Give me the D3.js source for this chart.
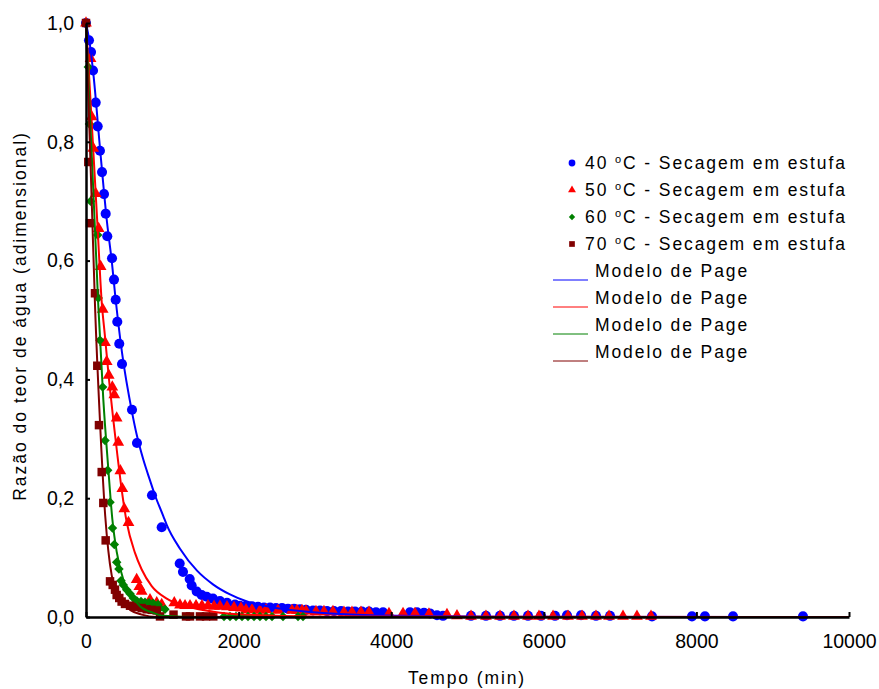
<!DOCTYPE html>
<html>
<head>
<meta charset="utf-8">
<script src="https://cdn.jsdelivr.net/npm/d3@7"></script>
<style>
  body { margin: 0; background: #fff; }
  svg text { font-family: "Liberation Sans", Arial, sans-serif; fill: #000; }
</style>
</head>
<body>
<div id="chart"></div>
<script>
// experimental points (tempo em min, razão do teor de água)
const t40 = [0, 39, 66, 92, 127, 153, 183, 210, 236, 258, 279, 341, 367, 389, 410, 436, 472, 603, 668, 865, 992,
  1228, 1271, 1359, 1385, 1451, 1516, 1582, 1664, 1756, 1848, 1953, 2018, 2097, 2176, 2254, 2333, 2412, 2490, 2569,
  2647, 2726, 2805, 2883, 2975, 3067, 3159, 3250, 3342, 3434, 3526, 3617, 3709, 3801, 3893, 4246, 4338, 4430, 4508,
  4600, 4679, 5046, 5242, 5426, 5609, 5793, 5963, 6147, 6304, 6488, 6684, 6868, 7418, 7942, 8112, 8480, 9397];
const mr40 = [1.0, 0.971, 0.951, 0.920, 0.866, 0.826, 0.785, 0.749, 0.712, 0.679, 0.641, 0.604, 0.568, 0.534, 0.497,
  0.460, 0.426, 0.349, 0.293, 0.205, 0.151, 0.090, 0.076, 0.064, 0.053, 0.043, 0.037, 0.034, 0.031, 0.027, 0.024,
  0.021, 0.019, 0.019, 0.018, 0.017, 0.016, 0.016, 0.015, 0.015, 0.014, 0.014, 0.013, 0.012, 0.011, 0.011, 0.010,
  0.010, 0.010, 0.009, 0.009, 0.009, 0.009, 0.008, 0.008, 0.008, 0.008, 0.007, 0.006, 0.003, 0.002, 0.002, 0.002,
  0.002, 0.002, 0.002, 0.002, 0.002, 0.003, 0.003, 0.002, 0.002, 0.001, 0.001, 0.001, 0.001, 0.001];

const t50 = [0, 60, 75, 95, 127, 166, 192, 219, 249, 271, 298, 345, 371, 402, 423, 450, 476, 502, 557, 664, 699, 730,
  839, 927, 992, 1157, 1232, 1298, 1363, 1442, 1520, 1599, 1678, 1756, 1848, 1940, 2031, 2097, 2176, 2280, 2359, 2516,
  2700, 2765, 2831, 2883, 3014, 3119, 3237, 3381, 3486, 3604, 3709, 3971, 4155, 4312, 4495, 4731, 4862, 5046, 5242,
  5426, 5609, 5793, 5937, 6121, 6317, 6501, 6684, 6855, 7038, 7221, 7405];
const mr50 = [1.0, 0.940, 0.842, 0.789, 0.713, 0.654, 0.590, 0.518, 0.462, 0.430, 0.407, 0.387, 0.374, 0.335, 0.294,
  0.246, 0.216, 0.182, 0.159, 0.063, 0.051, 0.043, 0.029, 0.024, 0.021, 0.024, 0.020, 0.019, 0.019, 0.019, 0.019,
  0.019, 0.018, 0.018, 0.017, 0.016, 0.015, 0.012, 0.012, 0.011, 0.012, 0.011, 0.011, 0.011, 0.011, 0.010, 0.009,
  0.009, 0.009, 0.008, 0.008, 0.008, 0.008, 0.006, 0.006, 0.006, 0.005, 0.004, 0.002, 0.001, 0.001, 0.001, 0.001,
  0.001, 0.001, 0.001, 0.001, 0.001, 0.001, 0.001, 0.001, 0.001, 0.001];

const t60 = [0, 30, 45, 60, 153, 161, 183, 219, 249, 284, 315, 347, 371, 402, 432, 459, 489, 533, 577, 620, 668, 721,
  773, 826, 878, 944, 970, 1035, 1809, 1887, 1966, 2045, 2123, 2202, 2280, 2359, 2438, 2582, 2779, 2844];
const mr60 = [1.0, 0.926, 0.830, 0.700, 0.643, 0.537, 0.466, 0.387, 0.297, 0.247, 0.193, 0.150, 0.122, 0.092, 0.081,
  0.061, 0.054, 0.046, 0.039, 0.032, 0.027, 0.026, 0.025, 0.024, 0.023, 0.021, 0.015, 0.013, 0.001, 0.001, 0.001,
  0.001, 0.001, 0.001, 0.001, 0.001, 0.001, 0.001, 0.001, 0.001];

const t70 = [0, 30, 52, 118, 148, 170, 206, 227, 258, 315, 350, 380, 402, 436, 467, 511, 577, 642, 730, 796, 861, 927,
  970, 1147, 1311, 1363, 1494, 1573, 1668];
const mr70 = [1.0, 0.766, 0.663, 0.545, 0.423, 0.323, 0.244, 0.192, 0.129, 0.060, 0.054, 0.046, 0.037, 0.032, 0.026,
  0.022, 0.019, 0.017, 0.015, 0.013, 0.012, 0.011, 0.001, 0.004, 0.001, 0.001, 0.001, 0.001, 0.001];

// Modelo de Page curves
const page40T = [0, 50, 100, 183, 275, 341, 380, 472, 603, 668, 751, 839, 904, 1013, 1058, 1232, 1455, 1664, 1887, 2110, 2412, 2805, 3329, 4115, 5426, 10000];
const page40MR = [1.0, 0.965, 0.91, 0.79, 0.665, 0.595, 0.545, 0.445, 0.345, 0.305, 0.265, 0.23, 0.205, 0.17, 0.155, 0.115, 0.078, 0.055, 0.038, 0.026, 0.017, 0.010, 0.005, 0.002, 0.0005, 0];
const page50T = [0, 50, 100, 150, 206, 249, 306, 358, 410, 467, 533, 642, 730, 861, 1058, 1320, 1668, 2100, 3000, 10000];
const page50MR = [1.0, 0.89, 0.775, 0.66, 0.53, 0.472, 0.394, 0.332, 0.274, 0.215, 0.16, 0.108, 0.080, 0.052, 0.031, 0.018, 0.009, 0.004, 0.001, 0];
const page60T = [0, 50, 100, 161, 227, 292, 345, 402, 489, 577, 708, 882, 1013, 1500, 10000];
const page60MR = [1.0, 0.85, 0.705, 0.525, 0.366, 0.25, 0.165, 0.11, 0.063, 0.040, 0.018, 0.007, 0.002, 0, 0];
const page70T = [0, 40, 80, 118, 183, 252, 292, 337, 380, 467, 577, 730, 927, 10000];
const page70MR = [1.0, 0.84, 0.68, 0.525, 0.33, 0.17, 0.112, 0.07, 0.047, 0.026, 0.012, 0.004, 0, 0];

const xTicks = [0, 2000, 4000, 6000, 8000, 10000];
const yTicks = [0, 0.2, 0.4, 0.6, 0.8, 1.0];
const legendLabels = ["40", "50", "60", "70"];

const width = 879;
const height = 689;
const margin = { top: 23, right: 30, bottom: 72, left: 86 };

const svg = d3.select('#chart')
  .append('svg')
  .attr('width', width)
  .attr('height', height);

const x = d3.scaleLinear()
  .domain([0, 10000])
  .range([margin.left, 849]);

const y = d3.scaleLinear()
  .domain([0, 1])
  .range([617, margin.top]);

const series = [
  { t: t40, mr: mr40, pt: page40T, pmr: page40MR, color: '#0000ff', shape: d3.symbolCircle, size: 80, rot: 0 },
  { t: t50, mr: mr50, pt: page50T, pmr: page50MR, color: '#ff0000', shape: d3.symbolTriangle, size: 60, rot: 0 },
  { t: t60, mr: mr60, pt: page60T, pmr: page60MR, color: '#008000', shape: d3.symbolSquare, size: 45, rot: 45 },
  { t: t70, mr: mr70, pt: page70T, pmr: page70MR, color: '#800000', shape: d3.symbolSquare, size: 72, rot: 0 },
];

// markers
series.forEach(s => {
  svg.append('g')
    .attr('fill', s.color)
    .selectAll('path')
    .data(s.t.map((t, i) => [t, s.mr[i]]))
    .join('path')
      .attr('transform', d => `translate(${x(d[0])},${y(d[1])}) rotate(${s.rot})`)
      .attr('d', d3.symbol().type(s.shape).size(s.size));
});

// model lines
const line = d3.line()
  .x(d => x(d[0]))
  .y(d => y(d[1]))
  .curve(d3.curveMonotoneX);

series.forEach(s => {
  svg.append('path')
    .datum(s.pt.map((t, i) => [t, s.pmr[i]]))
    .attr('fill', 'none')
    .attr('stroke', s.color)
    .attr('stroke-width', 2)
    .attr('d', line);
});

// axes
const fmt = d => d3.format('.1f')(d).replace('.', ',');

svg.append('g')
  .attr('transform', `translate(0,${y(0)})`)
  .call(d3.axisBottom(x).tickValues(xTicks).tickSizeInner(-5).tickSizeOuter(0).tickPadding(17).tickFormat(d3.format('d')))
  .call(g => g.select('.domain').attr('stroke-width', 2.5))
  .call(g => g.selectAll('.tick line').attr('stroke-width', 2))
  .call(g => g.selectAll('text').attr('font-size', '19.5px').attr('font-family', 'Liberation Sans, Arial, sans-serif'));

svg.append('g')
  .attr('transform', `translate(${x(0)},0)`)
  .call(d3.axisLeft(y).tickValues(yTicks).tickSizeInner(-4).tickSizeOuter(0).tickPadding(12).tickFormat(fmt))
  .call(g => g.select('.domain').attr('stroke-width', 2.5))
  .call(g => g.selectAll('.tick line').attr('stroke-width', 2))
  .call(g => g.selectAll('text').attr('font-size', '19.5px').attr('font-family', 'Liberation Sans, Arial, sans-serif'));

svg.append('text')
  .attr('x', 467)
  .attr('y', 684)
  .attr('text-anchor', 'middle')
  .attr('font-size', '17.5px')
  .attr('letter-spacing', '1.9px')
  .text('Tempo (min)');

svg.append('text')
  .attr('transform', 'translate(26,316) rotate(-90)')
  .attr('text-anchor', 'middle')
  .attr('font-size', '17.5px')
  .attr('letter-spacing', '2px')
  .text('Razão do teor de água (adimensional)');

// legend
const legend = svg.append('g');
series.forEach((s, i) => {
  const ly = 163 + i * 27;
  legend.append('path')
    .attr('transform', `translate(572,${ly}) rotate(${s.rot})`)
    .attr('fill', s.color)
    .attr('d', d3.symbol().type(s.shape).size(s.size * 0.45));
  const txt = legend.append('text')
    .attr('x', 585)
    .attr('y', ly + 6)
    .attr('font-size', '17.5px')
    .attr('letter-spacing', '1.9px');
  txt.append('tspan').text(legendLabels[i] + ' ');
  txt.append('tspan').attr('font-size', '11px').attr('dy', -6).text('o');
  txt.append('tspan').attr('dy', 6).text('C - Secagem em estufa');
});
series.forEach((s, i) => {
  const ly = 271 + i * 27;
  legend.append('line')
    .attr('x1', 553).attr('x2', 588)
    .attr('y1', ly + 9).attr('y2', ly + 9)
    .attr('stroke', s.color)
    .attr('stroke-width', 1);
  legend.append('text')
    .attr('x', 595)
    .attr('y', ly + 6)
    .attr('font-size', '17.5px')
    .attr('letter-spacing', '1.9px')
    .text('Modelo de Page');
});
</script>
</body>
</html>
